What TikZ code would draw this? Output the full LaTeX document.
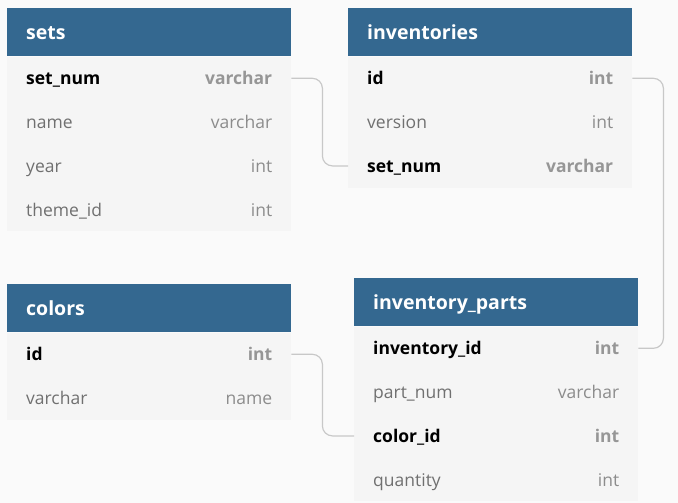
\documentclass[tikz,border=0pt]{standalone}
\usepackage{fontspec}
\setmainfont{Open Sans}
\usepackage{tikz}
\usetikzlibrary{calc,positioning}

\definecolor{hdrblue}{RGB}{52,104,144}
\definecolor{rowgray}{RGB}{245,245,245}
\definecolor{bggray}{RGB}{250,250,250}
\definecolor{namegray}{RGB}{112,112,112}
\definecolor{typegray}{RGB}{140,140,140}
\definecolor{keytypegray}{RGB}{150,150,150}
\definecolor{linkgray}{RGB}{200,200,200}

\newcommand{\keycol}[2]{\textbf{#1}\hfill\textcolor{keytypegray}{\textbf{#2}}}
\newcommand{\plaincol}[2]{\textcolor{namegray}{#1}\hfill\textcolor{typegray}{#2}}

\begin{document}
\begin{tikzpicture}[x=1pt,y=-1pt,
    hdr/.style={fill=hdrblue,text=white,anchor=north west,minimum width=284pt,
      minimum height=48pt,text width=246pt,inner xsep=19pt,inner ysep=0pt,
      text height=16pt,text depth=1pt,
      font=\fontsize{19.5}{22}\selectfont\bfseries},
    row/.style={fill=rowgray,minimum width=284pt,minimum height=43.4pt,
      text width=246pt,inner xsep=19pt,inner ysep=0pt,text height=14pt,text depth=1pt,
      font=\fontsize{17.5}{20}\selectfont},
    link/.style={draw=linkgray,line width=1.2pt,rounded corners=10pt}]
  \fill[bggray] (0,0) rectangle (678,503);

  % sets
  \node[hdr] (sets) at (7,8) {sets};
  \node[row,below=0pt of sets] (setsnum) {\keycol{set\_num}{varchar}};
  \node[row,below=0pt of setsnum] (setsname) {\plaincol{name}{varchar}};
  \node[row,below=0pt of setsname] (setsyear) {\plaincol{year}{int}};
  \node[row,below=0pt of setsyear] (setstheme) {\plaincol{theme\_id}{int}};

  % inventories
  \node[hdr] (inv) at (348,8) {inventories};
  \node[row,below=0pt of inv] (invid) {\keycol{id}{int}};
  \node[row,below=0pt of invid] (invversion) {\plaincol{version}{int}};
  \node[row,below=0pt of invversion] (invsetnum) {\keycol{set\_num}{varchar}};

  % colors
  \node[hdr] (colors) at (7,284) {colors};
  \node[row,below=0pt of colors] (colid) {\keycol{id}{int}};
  \node[row,below=0pt of colid] (colname) {\plaincol{varchar}{name}};

  % inventory_parts
  \node[hdr] (ip) at (354,278) {inventory\_parts};
  \node[row,below=0pt of ip] (ipinvid) {\keycol{inventory\_id}{int}};
  \node[row,below=0pt of ipinvid] (ippart) {\plaincol{part\_num}{varchar}};
  \node[row,below=0pt of ippart] (ipcolor) {\keycol{color\_id}{int}};
  \node[row,below=0pt of ipcolor] (ipqty) {\plaincol{quantity}{int}};

  % links
  \draw[link] (setsnum.east) -- ++(31,0) |- (invsetnum.west);
  \draw[link] (invid.east) -- ++(31,0) |- (ipinvid.east);
  \draw[link] (colid.east) -- ++(31,0) |- (ipcolor.west);
\end{tikzpicture}
\end{document}
